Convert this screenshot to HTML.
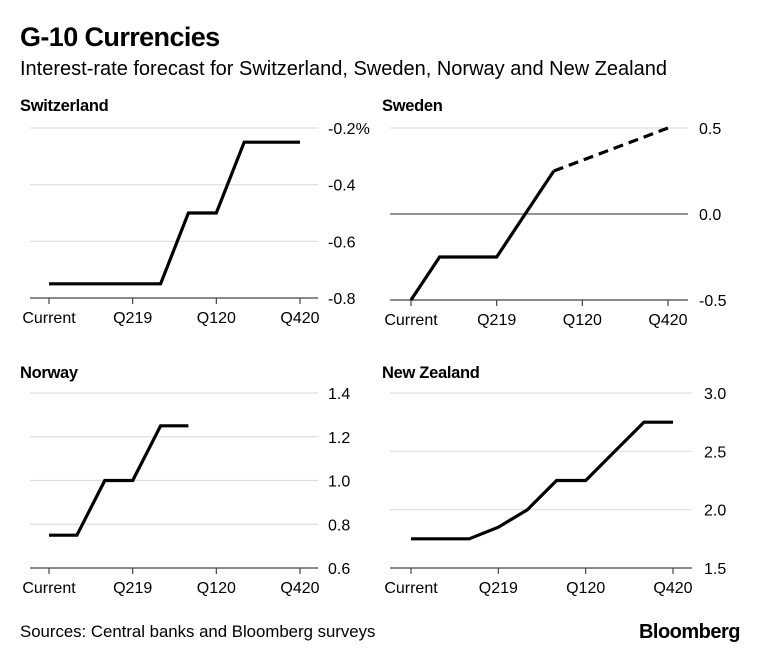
<!DOCTYPE html>
<html><head><meta charset="utf-8">
<style>
body{margin:0;background:#fff;font-family:"Liberation Sans",Arial,sans-serif;}
svg text{font-family:"Liberation Sans",Arial,sans-serif;}
</style></head>
<body>
<svg id="c" width="760" height="650" xmlns="http://www.w3.org/2000/svg">
<text x="20" y="46" font-size="27" font-weight="bold" fill="#000" letter-spacing="-0.6">G-10 Currencies</text>
<text x="20" y="75" font-size="20" fill="#000">Interest-rate forecast for Switzerland, Sweden, Norway and New Zealand</text>
<text x="20" y="637" font-size="16.8" fill="#000">Sources: Central banks and Bloomberg surveys</text>
<text x="740" y="638" font-size="20" font-weight="bold" text-anchor="end" fill="#000" letter-spacing="-0.5">Bloomberg</text>
</svg>
<script>
const xLabels = ["Current","","","Q219","","","Q120","","","Q420"];
const swissTicks = [-0.2,-0.4,-0.6,-0.8];
const swissTickLabels = ["-0.2%","-0.4","-0.6","-0.8"];
const swissValues = [-0.75,-0.75,-0.75,-0.75,-0.75,-0.5,-0.5,-0.25,-0.25,-0.25];
const swedenTicks = [0.5,0.0,-0.5];
const swedenTickLabels = ["0.5","0.0","-0.5"];
const swedenValues = [-0.5,-0.25,-0.25,-0.25,0.0,0.25,null,null,null,null];
const swedenForecast = [null,null,null,null,null,0.25,0.3125,0.375,0.4375,0.5];
const norwayTicks = [1.4,1.2,1.0,0.8,0.6];
const norwayTickLabels = ["1.4","1.2","1.0","0.8","0.6"];
const norwayValues = [0.75,0.75,1.0,1.0,1.25,1.25,null,null,null,null];
const nzTicks = [3.0,2.5,2.0,1.5];
const nzTickLabels = ["3.0","2.5","2.0","1.5"];
const nzValues = [1.75,1.75,1.75,1.85,2.0,2.25,2.25,2.5,2.75,2.75];

const NS="http://www.w3.org/2000/svg";
const svg=document.getElementById('c');
function mk(tag,attrs){const e=document.createElementNS(NS,tag);for(const k in attrs)e.setAttribute(k,attrs[k]);svg.appendChild(e);return e;}

function panel(p){
  const sx=i=>p.x0+i*(p.x1-p.x0)/(xLabels.length-1);
  const sy=v=>p.yTop+(p.yMax-v)/(p.yMax-p.yMin)*(p.yBot-p.yTop);
  let t=mk('text',{x:p.titleX,y:p.titleY,'font-size':16.5,'font-weight':'bold',fill:'#000','letter-spacing':-0.3});
  t.textContent=p.title;
  
  
  p.ticks.forEach((v,i)=>{
    const y=sy(v);
    if(v!==p.yMin){
      const g=mk('line',{x1:p.gx0,x2:p.gx1,y1:y,y2:y,stroke:p.zero===v?'#555':'#ddd','stroke-width':1.2});
      
      
    }
    const l=mk('text',{x:p.labelX,y:y+6,'font-size':16,fill:'#000'});
    l.textContent=p.tickLabels[i];
    
    
  });
  const by=sy(p.yMin);
  const ax=mk('line',{x1:p.gx0,x2:p.gx1,y1:by,y2:by,stroke:'#444','stroke-width':1.2});
  
  
  xLabels.forEach((lab,i)=>{
    if(!lab)return;
    const x=sx(i);
    const tk=mk('line',{x1:x,x2:x,y1:by,y2:by+6,stroke:'#444','stroke-width':1.2});
    
    
    const tl=mk('text',{x:x,y:by+25,'font-size':16,'text-anchor':'middle',fill:'#000'});
    tl.textContent=lab;
    
    
  });
  p.series.forEach(s=>{
    const pts=[];
    s.values.forEach((v,i)=>{if(v!==null)pts.push(sx(i).toFixed(1)+','+sy(v).toFixed(1));});
    const pl=mk('polyline',{points:pts.join(' '),fill:'none',stroke:'#000','stroke-width':3.2,'stroke-linejoin':'miter','stroke-dasharray':s.dash||'none'});
    
    
  });
}
panel({key:'switzerland',title:'Switzerland',titleX:20,titleY:111,labelX:328,gx0:30,gx1:318,x0:49,x1:300,yTop:128,yBot:298,yMax:-0.2,yMin:-0.8,ticks:swissTicks,tickLabels:swissTickLabels,
  series:[{name:'switzerland-line',values:swissValues}]});
panel({key:'sweden',title:'Sweden',titleX:382,titleY:111,labelX:699,gx0:390,gx1:688,x0:411,x1:668,yTop:128,yBot:300,yMax:0.5,yMin:-0.5,zero:0,ticks:swedenTicks,tickLabels:swedenTickLabels,
  series:[{name:'sweden-line',values:swedenValues},{name:'sweden-forecast-line',values:swedenForecast,dash:'10,6'}]});
panel({key:'norway',title:'Norway',titleX:20,titleY:378,labelX:328,gx0:30,gx1:318,x0:49,x1:300,yTop:393,yBot:568,yMax:1.4,yMin:0.6,ticks:norwayTicks,tickLabels:norwayTickLabels,
  series:[{name:'norway-line',values:norwayValues}]});
panel({key:'new-zealand',title:'New Zealand',titleX:382,titleY:378,labelX:704,gx0:390,gx1:692,x0:411,x1:673,yTop:393,yBot:568,yMax:3.0,yMin:1.5,ticks:nzTicks,tickLabels:nzTickLabels,
  series:[{name:'new-zealand-line',values:nzValues}]});
</script>
</body></html>
